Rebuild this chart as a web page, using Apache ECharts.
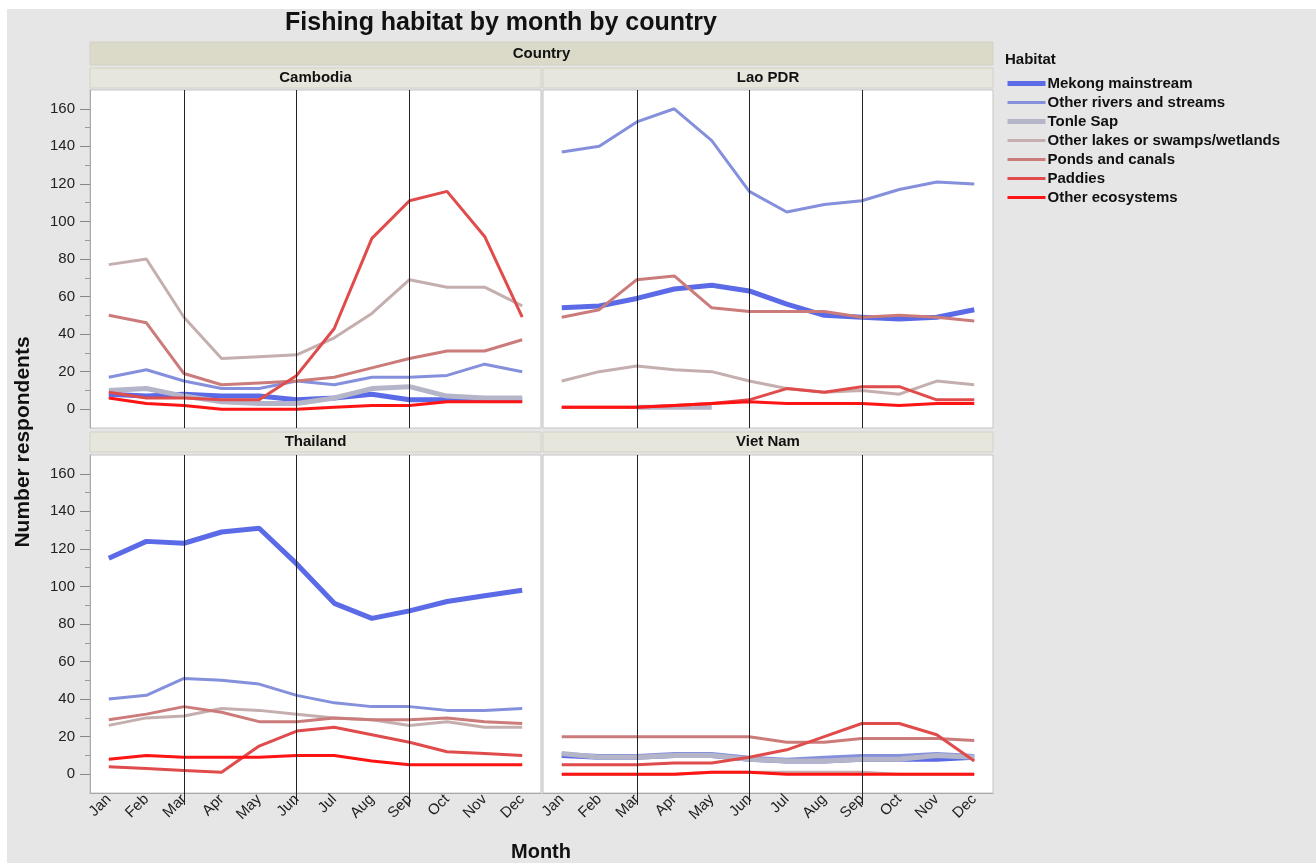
<!DOCTYPE html>
<html>
<head>
<meta charset="utf-8">
<title>Fishing habitat by month by country</title>
<script src="https://cdn.jsdelivr.net/npm/echarts@6/dist/echarts.min.js"></script>
<style>
    html, body { margin: 0; padding: 0; background: #fff; }
    #chart { width: 1316px; height: 863px; }
</style>
</head>
<body>
<div id="chart"></div>
<script>
// data
const months = ['Jan', 'Feb', 'Mar', 'Apr', 'May', 'Jun', 'Jul', 'Aug', 'Sep', 'Oct', 'Nov', 'Dec']
const countries = ['Cambodia', 'Lao PDR', 'Thailand', 'Viet Nam']
const habitats = ['Mekong mainstream', 'Other rivers and streams', 'Tonle Sap', 'Other lakes or swamps/wetlands', 'Ponds and canals', 'Paddies', 'Other ecosystems']
const yTicks = [0, 20, 40, 60, 80, 100, 120, 140, 160]
const yMinorTicks = [10, 30, 50, 70, 90, 110, 130, 150]
const markMonths = ['Mar', 'Jun', 'Sep']

const cambodiaMekong = [8, 7, 8, 7, 7, 5, 6, 8, 5, 5, 5, 5]
const cambodiaRivers = [17, 21, 15, 11, 11, 15, 13, 17, 17, 18, 24, 20]
const cambodiaTonle = [10, 11, 7, 4, 3, 3, 6, 11, 12, 7, 6, 6]
const cambodiaLakes = [77, 80, 49, 27, 28, 29, 38, 51, 69, 65, 65, 55]
const cambodiaPonds = [50, 46, 19, 13, 14, 15, 17, 22, 27, 31, 31, 37]
const cambodiaPaddies = [9, 6, 6, 5, 5, 18, 43, 91, 111, 116, 92, 49]
const cambodiaOther = [6, 3, 2, 0, 0, 0, 1, 2, 2, 4, 4, 4]

const laoMekong = [54, 55, 59, 64, 66, 63, 56, 50, 49, 48, 49, 53]
const laoRivers = [137, 140, 153, 160, 143, 116, 105, 109, 111, 117, 121, 120]
const laoTonle = [null, null, 1, 1, 1, null, null, null, null, null, null, null]
const laoLakes = [15, 20, 23, 21, 20, 15, 11, 9, 10, 8, 15, 13]
const laoPonds = [49, 53, 69, 71, 54, 52, 52, 52, 49, 50, 49, 47]
const laoPaddies = [1, 1, 1, 2, 3, 5, 11, 9, 12, 12, 5, 5]
const laoOther = [1, 1, 1, 2, 3, 4, 3, 3, 3, 2, 3, 3]

const thaiMekong = [115, 124, 123, 129, 131, 112, 91, 83, 87, 92, 95, 98]
const thaiRivers = [40, 42, 51, 50, 48, 42, 38, 36, 36, 34, 34, 35]
const thaiTonle = []
const thaiLakes = [26, 30, 31, 35, 34, 32, 30, 29, 26, 28, 25, 25]
const thaiPonds = [29, 32, 36, 33, 28, 28, 30, 29, 29, 30, 28, 27]
const thaiPaddies = [4, 3, 2, 1, 15, 23, 25, 21, 17, 12, 11, 10]
const thaiOther = [8, 10, 9, 9, 9, 10, 10, 7, 5, 5, 5, 5]

const vietMekong = [10, 9, 9, 10, 10, 8, 7, 7, 8, 8, 8, 9]
const vietRivers = [11, 10, 10, 11, 11, 9, 8, 9, 10, 10, 11, 10]
const vietTonle = [11, 9, 9, 10, 10, 8, 7, 7, 8, 8, 10, 9]
const vietLakes = [0, 0, 0, 0, 1, 1, 1, 1, 1, 0, 0, 0]
const vietPonds = [20, 20, 20, 20, 20, 20, 17, 17, 19, 19, 19, 18]
const vietPaddies = [5, 5, 5, 6, 6, 9, 13, 20, 27, 27, 21, 7]
const vietOther = [0, 0, 0, 0, 1, 1, 0, 0, 0, 0, 0, 0]

const countryData = [
    [cambodiaMekong, cambodiaRivers, cambodiaTonle, cambodiaLakes, cambodiaPonds, cambodiaPaddies, cambodiaOther],
    [laoMekong, laoRivers, laoTonle, laoLakes, laoPonds, laoPaddies, laoOther],
    [thaiMekong, thaiRivers, thaiTonle, thaiLakes, thaiPonds, thaiPaddies, thaiOther],
    [vietMekong, vietRivers, vietTonle, vietLakes, vietPonds, vietPaddies, vietOther]
]

const colorList = ['#5b6ae6', '#8590dc', '#b4b5c9', '#c5afae', '#cc7b7b', '#e04b4b', '#ff1414']
const widthList = [5, 3, 5, 3, 3, 3, 3]

const font = 'Liberation Sans, Arial, Helvetica, sans-serif'

// panel boxes (left, top, width, height)
const panels = [
    { left: 90, top: 90, width: 451, height: 338 },
    { left: 543, top: 90, width: 450, height: 338 },
    { left: 90, top: 455, width: 451, height: 338 },
    { left: 543, top: 455, width: 450, height: 338 }
]

let myChart = echarts.init(document.getElementById('chart'))

let grids = []
let xAxes = []
let yAxes = []
let series = []

panels.forEach((p, i) => {
    const isLeft = i % 2 === 0
    const isBottom = i >= 2
    grids.push({
        left: p.left, top: p.top, width: p.width, height: p.height,
        show: true,
        backgroundColor: '#fff',
        borderColor: '#c4c4c4',
        borderWidth: 1
    })
    xAxes.push({
        type: 'category',
        gridIndex: i,
        data: months,
        boundaryGap: true,
        axisLine: { show: isBottom, onZero: false, lineStyle: { color: '#a8a8a8' } },
        axisTick: {
            show: isBottom,
            alignWithLabel: true,
            length: 12,
            interval: (idx, val) => markMonths.indexOf(val) >= 0,
            lineStyle: { color: '#222' }
        },
        axisLabel: {
            show: isBottom,
            interval: 0,
            rotate: 45,
            margin: 4,
            fontFamily: font,
            fontSize: 15,
            color: '#222'
        },
        splitLine: { show: false }
    })
    yAxes.push({
        type: 'value',
        gridIndex: i,
        position: 'left',
        min: -10,
        max: 170,
        axisLine: { show: isLeft, lineStyle: { color: '#a8a8a8' } },
        axisTick: { show: isLeft, customValues: yTicks, length: 10, lineStyle: { color: '#888' } },
        axisLabel: { show: isLeft, customValues: yTicks, margin: 15, fontFamily: font, fontSize: 15, color: '#222' },
        splitLine: { show: false }
    })
    // minor ticks
    yAxes.push({
        type: 'value',
        gridIndex: i,
        position: 'left',
        min: -10,
        max: 170,
        axisLine: { show: false },
        axisTick: { show: isLeft, customValues: yMinorTicks, length: 5, lineStyle: { color: '#999' } },
        axisLabel: { show: false },
        splitLine: { show: false }
    })
    countryData[i].forEach((values, h) => {
        if (!values.length) return
        let s = {
            name: habitats[h],
            type: 'line',
            xAxisIndex: i,
            yAxisIndex: i * 2,
            data: values,
            symbol: 'none',
            connectNulls: false,
            animation: false,
            itemStyle: { color: colorList[h] },
            lineStyle: { color: colorList[h], width: widthList[h] }
        }
        if (h === 0) {
            s.markLine = {
                silent: true,
                symbol: ['none', 'none'],
                label: { show: false },
                lineStyle: { color: '#222', width: 1, type: 'solid' },
                data: markMonths.map(m => ({ xAxis: m })),
                animation: false
            }
        }
        series.push(s)
    })
})

function strip(x, y, w, h, text, fill) {
    return [
        { type: 'rect', shape: { x: x, y: y, width: w, height: h }, style: { fill: fill, stroke: '#d2d1c6', lineWidth: 1 } },
        { type: 'text', x: x + w / 2, y: y + h / 2, style: { text: text, fill: '#111', font: 'bold 15px ' + font, align: 'center', verticalAlign: 'middle' } }
    ]
}

let graphics = [
    // white page margin at top and left
    { type: 'rect', shape: { x: 0, y: 0, width: 1316, height: 9 }, style: { fill: '#fff' } },
    { type: 'rect', shape: { x: 0, y: 0, width: 7, height: 863 }, style: { fill: '#fff' } },
    { type: 'text', x: 501, y: 23, style: { text: 'Fishing habitat by month by country', fill: '#111', font: 'bold 25px ' + font, align: 'center', verticalAlign: 'middle' } },
    { type: 'text', x: 1005, y: 60, style: { text: 'Habitat', fill: '#111', font: 'bold 15px ' + font, verticalAlign: 'middle' } },
    { type: 'text', x: 23, y: 442, rotation: Math.PI / 2, style: { text: 'Number respondents', fill: '#111', font: 'bold 21px ' + font, align: 'center', verticalAlign: 'middle' } },
    { type: 'text', x: 541, y: 852, style: { text: 'Month', fill: '#111', font: 'bold 20px ' + font, align: 'center', verticalAlign: 'middle' } }
]
graphics = graphics
    .concat(strip(90, 42, 903, 23, 'Country', '#dbd9c8'))
    .concat(strip(90, 68, 451, 20, countries[0], '#e7e6dd'))
    .concat(strip(543, 68, 450, 20, countries[1], '#e7e6dd'))
    .concat(strip(90, 432, 451, 20, countries[2], '#e7e6dd'))
    .concat(strip(543, 432, 450, 20, countries[3], '#e7e6dd'))

let option = {
    backgroundColor: '#e6e6e6',
    animation: false,
    legend: {
        data: habitats,
        orient: 'vertical',
        left: 1005,
        top: 76,
        padding: 0,
        itemWidth: 38,
        itemHeight: 12,
        itemGap: 4,
        itemStyle: { opacity: 0 },
        lineStyle: { width: 'inherit' },
        textStyle: { fontFamily: font, fontSize: 15, fontWeight: 'bold', color: '#111', padding: [0, 0, 0, -3] }
    },
    grid: grids,
    xAxis: xAxes,
    yAxis: yAxes,
    series: series,
    graphic: graphics
}
myChart.setOption(option)
window.addEventListener('resize', () => {
    if (myChart) {
        myChart.resize()
    }
})
</script>
</body>
</html>
